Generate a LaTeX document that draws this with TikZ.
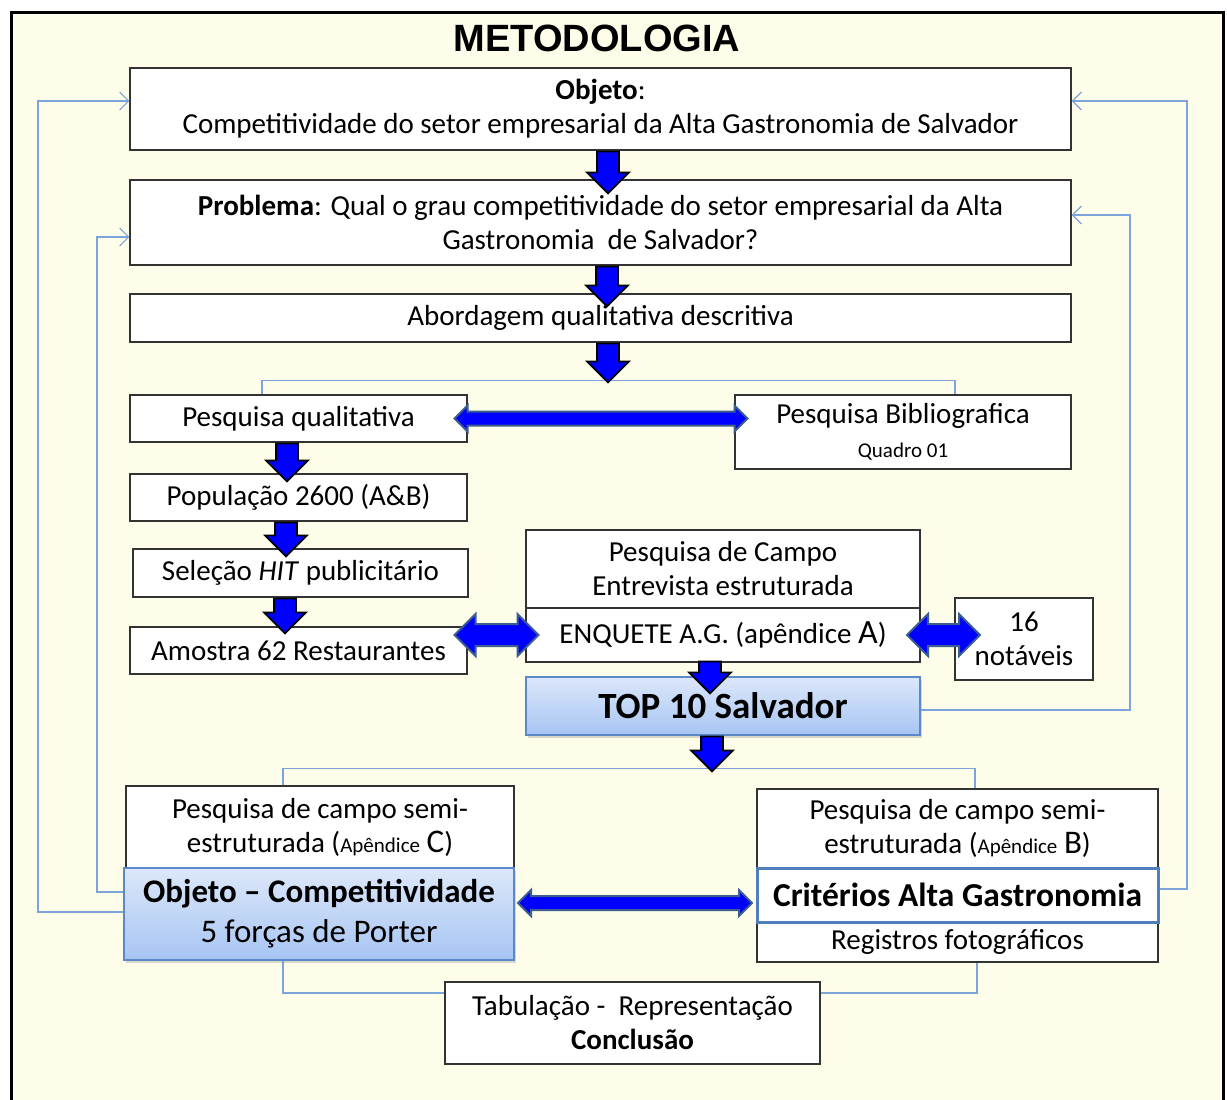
\documentclass[tikz,border=0pt]{standalone}
\usepackage{fontspec}
\setmainfont{Carlito}
\newfontfamily\titlefont{Liberation Sans}
\usepackage{tikz}
\usetikzlibrary{arrows.meta,positioning,calc,shapes.arrows,shadows}
\definecolor{bgcream}{HTML}{FDFDE9}
\definecolor{fbblue}{HTML}{7BA4D8}
\definecolor{topblue}{HTML}{DCE7FA}
\definecolor{botblue}{HTML}{A7C5F3}
\definecolor{edgeblue}{HTML}{5B88C8}
\definecolor{critblue}{HTML}{4F7FBF}
\definecolor{dblout}{HTML}{3C5E8E}
\newcommand{\nsz}{\fontsize{29}{34}\selectfont}
\newcommand{\apx}[1]{({\fontsize{21}{21}\selectfont Apêndice} {\fontsize{33}{33}\selectfont #1})}
\tikzset{
  mbox/.style={draw=black!80,fill=white,line width=1.1pt,inner sep=0pt,align=center,font=\nsz},
  hlbox/.style={mbox,draw=edgeblue,top color=topblue,bottom color=botblue,
    drop shadow={opacity=0.3,shadow xshift=2pt,shadow yshift=-3pt}},
  critbox/.style={mbox,draw=critblue,line width=3pt},
  blkdown/.style={single arrow,rotate=-90,anchor=tail,fill=blue,draw=black,line width=1.8pt,
    inner xsep=0pt,inner ysep=10pt,minimum width=0pt,single arrow head extend=10pt},
  dblthin/.style={double arrow,fill=blue,draw=dblout,line width=2pt,inner xsep=0pt,inner ysep=6pt,
    minimum width=0pt,double arrow head extend=6pt},
  dblfat/.style={dblthin,inner ysep=10pt,double arrow head extend=10pt},
  brline/.style={draw=fbblue,line width=1.2pt},
  fbarrow/.style={brline,-{Straight Barb[length=9pt,width=18pt]}},
}
\begin{document}
\begin{tikzpicture}[x=1pt,y=-1pt]
  \useasboundingbox (0,0) rectangle (1227,1100);
  \fill[white] (0,0) rectangle (1227,1100);
  \begin{scope}
    \clip (0,0) rectangle (1227,1100);
    \draw[line width=3pt,fill=bgcream] (11.5,12.5) rectangle (1223.5,1130);
  \end{scope}
  \node[font=\titlefont\bfseries\fontsize{38}{38}\selectfont] (title) at (597,38) {METODOLOGIA};

  \node[mbox,minimum width=941pt,minimum height=82pt] (objeto) at (600.5,109)
    {\textbf{Objeto}:\\Competitividade do setor empresarial da Alta Gastronomia de Salvador};
  \node[mbox,minimum width=941pt,minimum height=85pt] (prob) at (600.5,222.5)
    {\textbf{Problema}: Qual o grau competitividade do setor empresarial da Alta\\Gastronomia\ \ de Salvador?};
  \node[mbox,minimum width=941pt,minimum height=48pt] (abord) at (600.5,318) {Abordagem qualitativa descritiva};
  \node[mbox,minimum width=337pt,minimum height=47pt] (pqual) at (298.5,418.5) {Pesquisa qualitativa};
  \node[mbox,minimum width=336pt,minimum height=74pt] (pbib) at (903,432)
    {Pesquisa Bibliografica\\{\fontsize{21}{24}\selectfont Quadro 01}};
  \node[mbox,minimum width=337pt,minimum height=47pt] (pop) at (298.5,497.5) {População 2600 (A\&B)};
  \node[mbox,minimum width=335pt,minimum height=48pt] (sel) at (300.5,573) {Seleção \textit{HIT} publicitário};
  \node[mbox,minimum width=337pt,minimum height=47pt] (amos) at (298.5,650.5) {Amostra 62 Restaurantes};
  \node[mbox,minimum width=394pt,minimum height=78pt] (pcampo) at (723,569) {Pesquisa de Campo\\Entrevista estruturada};
  \node[mbox,minimum width=394pt,minimum height=54pt] (enq) at (723,635)
    {ENQUETE A.G. (apêndice {\fontsize{34}{34}\selectfont A})};
  \node[mbox,minimum width=138pt,minimum height=82pt] (not16) at (1024,639) {16\\notáveis};
  \node[hlbox,minimum width=394pt,minimum height=58pt,font=\bfseries\fontsize{37}{40}\selectfont] (top10) at (723,706) {TOP 10 Salvador};

  \node[mbox,minimum width=388pt,minimum height=82pt] (pcC) at (320,827) {Pesquisa de campo semi-\\estruturada \apx{C}};
  \node[hlbox,minimum width=390pt,minimum height=92pt,font=\fontsize{33}{40}\selectfont] (objc) at (319,914)
    {\textbf{Objeto – Competitividade}\\5 forças de Porter};
  \node[mbox,minimum width=401pt,minimum height=79pt] (pcB) at (957.5,828.5) {Pesquisa de campo semi-\\estruturada \apx{B}};
  \node[mbox,minimum width=401pt,minimum height=40pt] (regis) at (957.5,942) {Registros fotográficos};
  \node[critbox,minimum width=401pt,minimum height=54pt,font=\bfseries\fontsize{33.5}{36}\selectfont] (crit) at (957.5,895) {Critérios Alta Gastronomia};
  \node[mbox,minimum width=375pt,minimum height=82pt] (tab) at (632.5,1023) {Tabulação -\ \ Representação\\\textbf{Conclusão}};

  \draw[brline] ([xshift=-36.5pt]pqual.north) -- ++(0,-14) -| ([xshift=52pt]pbib.north);
  \draw[brline] ([xshift=-37pt]pcC.north) -- ++(0,-17) -| ([xshift=17.5pt]pcB.north);
  \draw[brline] ([xshift=-36pt]objc.south) |- ([yshift=30pt]tab.west);
  \draw[brline] ([xshift=19.5pt]regis.south) |- ([yshift=30pt]tab.east);

  \coordinate (fbx1) at (38,0);
  \coordinate (fbx2) at (97,0);
  \coordinate (fbx3) at (1187,0);
  \coordinate (fbx4) at (1130,0);
  \draw[fbarrow] ([yshift=2pt]objc.west) -- ([yshift=2pt]objc.west -| fbx1) |- ([yshift=8pt]objeto.west);
  \draw[fbarrow] ([yshift=22pt]objc.west) -- ([yshift=22pt]objc.west -| fbx2) |- ([yshift=-14.5pt]prob.west);
  \draw[fbarrow] ([yshift=6pt]crit.east) -- ([yshift=6pt]crit.east -| fbx3) |- ([yshift=8pt]objeto.east);
  \draw[fbarrow] ([yshift=-4pt]top10.east) -- ([yshift=-4pt]top10.east -| fbx4) |- ([yshift=7.5pt]prob.east);

  \node[blkdown,minimum height=42pt] (d1) at ([xshift=7.5pt]objeto.south) {};
  \node[blkdown,minimum height=40pt] (d2) at ([xshift=6.5pt]prob.south) {};
  \node[blkdown,minimum height=39pt] (d3) at ([xshift=7.5pt]abord.south) {};
  \node[blkdown,minimum height=38pt] (d4) at ([xshift=-11.5pt]pqual.south) {};
  \node[blkdown,minimum height=34pt] (d5) at ([xshift=-12.5pt]pop.south) {};
  \node[blkdown,minimum height=35pt] (d6) at ([xshift=-15.5pt]sel.south) {};
  \node[blkdown,minimum height=32pt] (d7) at ([xshift=-13pt,yshift=2pt]enq.south) {};
  \node[blkdown,minimum height=35pt] (d8) at ([xshift=-11pt]top10.south) {};

  \node[dblthin,minimum height=293pt] (h1) at ($(pqual.east)!0.5!(pqual.east -| pbib.west)$) {};
  \node[dblfat,minimum height=84pt] (h2) at ($(enq.west -| amos.east)!0.5!(enq.west)$) {};
  \node[dblfat,minimum height=73pt,xshift=6pt] (h3) at ($(enq.east)!0.5!(enq.east -| not16.west)$) {};
  \node[dblthin,minimum height=234pt,yshift=-8pt] (h4) at ($(objc.east |- crit.west)!0.5!(crit.west)$) {};
\end{tikzpicture}
\end{document}
